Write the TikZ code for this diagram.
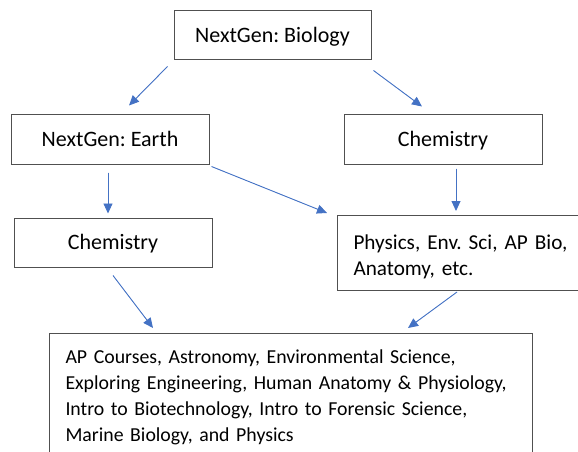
\documentclass[tikz,border=0pt]{standalone}
\usepackage{fontspec}
\setmainfont{Carlito}
\usetikzlibrary{arrows.meta}
\definecolor{arrowblue}{HTML}{4472C4}
\definecolor{boxgray}{HTML}{505050}
\tikzset{
  box/.style={draw=boxgray, line width=1pt, fill=white, inner sep=0pt,
    font=\fontsize{22}{26}\selectfont\frenchspacing, text=black},
  onebox/.style={box, minimum width=198pt, minimum height=50pt,
    text height=17pt, text depth=3pt},
  arr/.style={draw=arrowblue, line width=0.9pt,
    -{Triangle[length=10pt,width=9pt]}, fill=arrowblue}
}
\begin{document}
\begin{tikzpicture}[x=1pt,y=-1pt]
\useasboundingbox (0,0) rectangle (578,452);
\node[onebox, minimum width=197pt, minimum height=49pt] (bio) at (272.5,35.5) {NextGen: Biology};
\node[onebox] (earth) at (110,139) {NextGen: Earth};
\node[onebox] (chemr) at (443,139) {Chemistry};
\node[onebox, minimum height=49pt] (cheml) at (113,242.5) {Chemistry};
\node[box, font=\fontsize{21.2}{26}\selectfont\frenchspacing, anchor=north west,
  inner xsep=16pt, text width=240pt, align=left,
  minimum height=75pt] (phys) at (337,215)
  {\rule{0pt}{22pt}\mbox{Physics, Env. Sci, AP Bio,}\\ \mbox{Anatomy, etc.}};
\node[box, font=\fontsize{19.8}{26}\selectfont\frenchspacing, anchor=north west,
  inner xsep=16pt, inner ysep=8pt, text width=451pt,
  align=left] (all) at (49,333)
  {\rule{0pt}{22pt}\mbox{AP Courses, Astronomy, Environmental Science,}\\
   \mbox{Exploring Engineering, Human Anatomy \& Physiology,}\\
   \mbox{Intro to Biotechnology, Intro to Forensic Science,}\\
   \mbox{Marine Biology, and Physics}\rule[-30pt]{0pt}{30pt}};
\draw[arr] ([xshift=-6pt,yshift=-6pt]bio.south west) -- ([xshift=19pt,yshift=8pt]earth.north);
\draw[arr] ([xshift=2pt,yshift=-10pt]bio.south east) -- ([xshift=-21pt,yshift=7pt]chemr.north);
\draw[arr] ([xshift=-2pt,yshift=-8pt]earth.south) -- ([xshift=-5pt,yshift=4pt]cheml.north);
\draw[arr] ([xshift=2pt,yshift=-2pt]earth.south east) -- ([xshift=-10pt,yshift=2pt]phys.north west);
\draw[arr] ([xshift=13pt,yshift=-4pt]chemr.south) -- ([xshift=119pt,yshift=4pt]phys.north west);
\draw[arr] ([yshift=-8pt]cheml.south) -- ([xshift=104pt,yshift=5pt]all.north west);
\draw[arr] ([xshift=120pt,yshift=-1pt]phys.south west) -- ([xshift=359pt,yshift=5pt]all.north west);
\end{tikzpicture}
\end{document}
